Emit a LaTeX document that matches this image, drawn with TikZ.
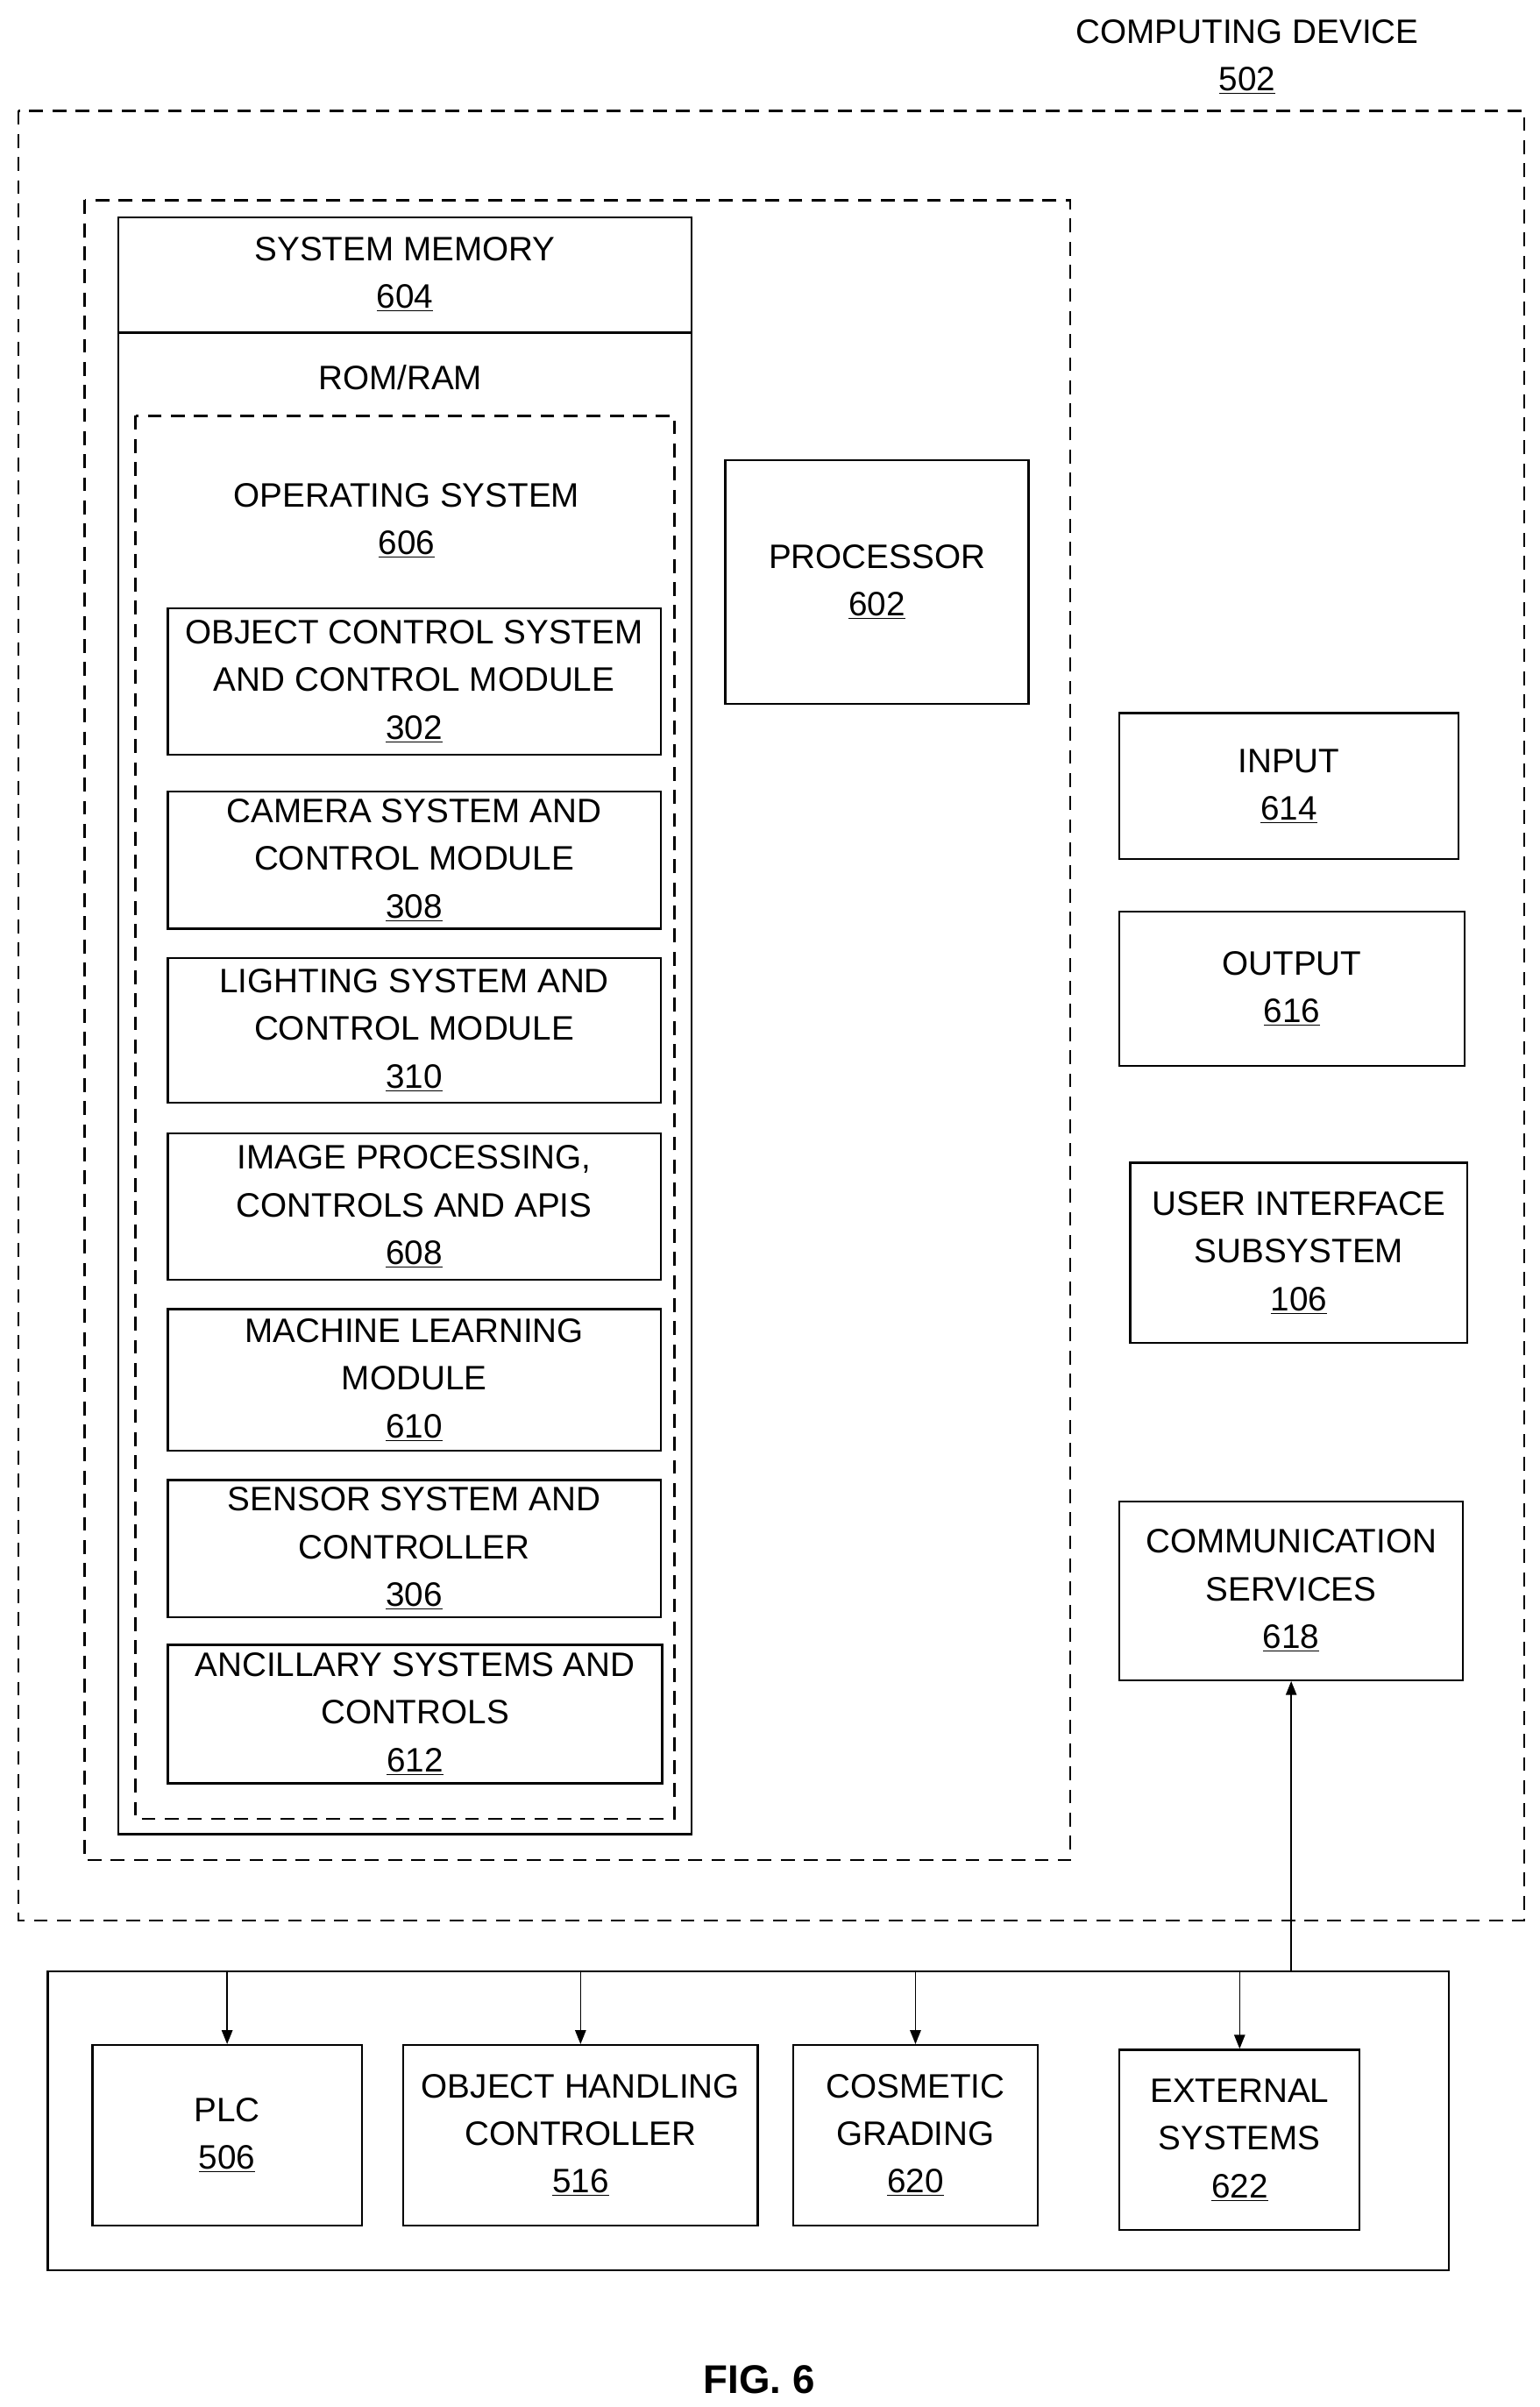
\documentclass[tikz,border=0pt]{standalone}
\usepackage{fontspec}
\setmainfont{Liberation Sans}
\usetikzlibrary{positioning, arrows.meta}
\newcommand{\refnum}[1]{\\\underline{#1}}
\tikzset{
  box/.style={draw, line width=1.3pt, align=center, inner sep=0pt},
  dashbox/.style={draw, line width=1.3pt, dash pattern=on 9pt off 6pt},
  link/.style={line width=0.9pt, -{Triangle[length=9pt,width=7pt]}}
}
\begin{document}
\begin{tikzpicture}[x=1pt,y=-1pt, font=\fontsize{22}{31}\selectfont]
  \useasboundingbox (0,0) rectangle (1000,1563);
  % computing device
  \draw[dashbox] (12,72) rectangle (990,1247);
  \node[align=center] (cdlabel) at (810,37) {COMPUTING DEVICE\refnum{502}};
  \draw[dashbox] (55,130) rectangle (695,1208);
  % system memory
  \draw[line width=1.3pt] (77,141) rectangle (449,1191);
  \draw[line width=1.3pt] (77,216) -- (449,216);
  \node[align=center] (sysmem) at (263,178) {SYSTEM MEMORY\refnum{604}};
  \node (romram) at (260,245) {ROM/RAM};
  \draw[dashbox] (88,270) rectangle (438,1181);
  \node[align=center] (os) at (264,338) {OPERATING SYSTEM\refnum{606}};
  \node[box, minimum width=320pt, minimum height=95pt] (ocs) at (269,442.5) {OBJECT CONTROL SYSTEM\\AND CONTROL MODULE\refnum{302}};
  \node[box, minimum width=320pt, minimum height=89pt] (cam) at (269,558.5) {CAMERA SYSTEM AND\\CONTROL MODULE\refnum{308}};
  \node[box, minimum width=320pt, minimum height=94pt] (light) at (269,669) {LIGHTING SYSTEM AND\\CONTROL MODULE\refnum{310}};
  \node[box, minimum width=320pt, minimum height=95pt] (img) at (269,783.5) {IMAGE PROCESSING,\\CONTROLS AND APIS\refnum{608}};
  \node[box, minimum width=320pt, minimum height=92pt] (ml) at (269,896) {MACHINE LEARNING\\MODULE\refnum{610}};
  \node[box, minimum width=320pt, minimum height=89pt] (sensor) at (269,1005.5) {SENSOR SYSTEM AND\\CONTROLLER\refnum{306}};
  \node[box, minimum width=321pt, minimum height=90pt] (anc) at (269.5,1113) {ANCILLARY SYSTEMS AND\\CONTROLS\refnum{612}};
  % right column
  \node[box, minimum width=197pt, minimum height=158pt] (proc) at (569.5,378) {PROCESSOR\refnum{602}};
  \node[box, minimum width=220pt, minimum height=95pt] (input) at (837,510.5) {INPUT\refnum{614}};
  \node[box, minimum width=224pt, minimum height=100pt] (output) at (839,642) {OUTPUT\refnum{616}};
  \node[box, minimum width=219pt, minimum height=117pt] (ui) at (843.5,813.5) {USER INTERFACE\\SUBSYSTEM\refnum{106}};
  \node[box, minimum width=223pt, minimum height=116pt] (comm) at (838.5,1033) {COMMUNICATION\\SERVICES\refnum{618}};
  % external bus
  \node[draw, line width=1.3pt, minimum width=910pt, minimum height=194pt, inner sep=0pt] (bus) at (486,1377) {};
  \node[box, minimum width=175pt, minimum height=117pt] (plc) at (147.5,1386.5) {PLC\refnum{506}};
  \node[box, minimum width=230pt, minimum height=117pt] (ohc) at (377,1386.5) {OBJECT HANDLING\\CONTROLLER\refnum{516}};
  \node[box, minimum width=159pt, minimum height=117pt] (cosm) at (594.5,1386.5) {COSMETIC\\GRADING\refnum{620}};
  \node[box, minimum width=156pt, minimum height=117pt] (ext) at (805,1389.5) {EXTERNAL\\SYSTEMS\refnum{622}};
  \foreach \n in {plc, ohc, cosm, ext}
    \draw[link] (\n |- bus.north) -- (\n.north);
  \draw[link] (comm |- bus.north) -- (comm.south);
  \node[font=\fontsize{26}{30}\selectfont\bfseries] (fig) at (493,1545) {FIG. 6};
\end{tikzpicture}
\end{document}
